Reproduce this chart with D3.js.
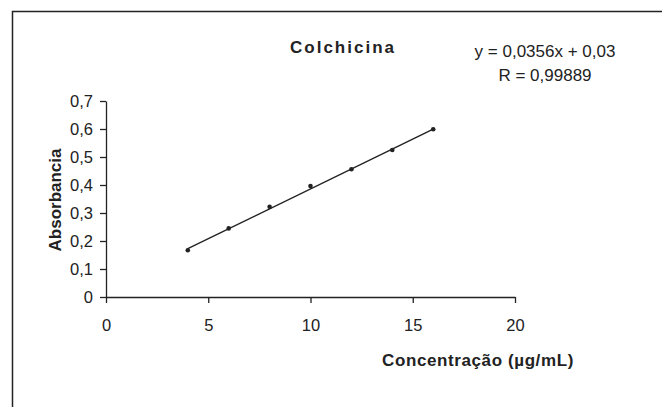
<!DOCTYPE html>
<html>
<head>
<meta charset="utf-8">
<script src="https://cdn.jsdelivr.net/npm/d3@7"></script>
<style>
  body { margin: 0; background: #fff; }
  text { font-family: Arial, "Liberation Sans", sans-serif; fill: #222; }
</style>
</head>
<body>
<svg id="chart"></svg>
<script>

var concentracao = [4, 6, 8, 10, 12, 14, 16]
var absorbancia = [0.167, 0.245, 0.322, 0.396, 0.456, 0.525, 0.599]

var xTicks = [0, 5, 10, 15, 20]
var yTicks = [0, 0.1, 0.2, 0.3, 0.4, 0.5, 0.6, 0.7]

// trend line
var slope = 0.0356
var intercept = 0.03
var equationText = "y = 0,0356x + 0,03"
var rText = "R = 0,99889"

var dimensions = ({
        width: 662,
        height: 407,
        margin: {
        top: 101,
        right: 147,
        bottom: 110,
        left: 106
    }
})

dimensions.boundedWidth = dimensions.width - dimensions.margin.right - dimensions.margin.left
dimensions.boundedHeight = dimensions.height - dimensions.margin.top - dimensions.margin.bottom

var svg = d3.select("#chart")
            .attr("width", dimensions.width)
            .attr("height", dimensions.height)

// outer frame (left and top edges visible)
svg.append("path")
    .attr("d", "M12.5,407 V11.5 H662")
    .attr("fill", "none")
    .attr("stroke", "#222")
    .attr("stroke-width", 1.5)

var xScale = d3.scaleLinear()
        .domain([0, 20])
        .range([0, dimensions.boundedWidth])

var yScale = d3.scaleLinear()
        .domain([0, 0.7])
        .range([dimensions.boundedHeight, 0])

var bounds = svg.append("g")
    .attr("transform", "translate(" + dimensions.margin.left + "," + dimensions.margin.top + ")")

var comma = function(d){ return String(d).replace(".", ",") }

var xAxis = d3.axisBottom(xScale)
        .tickValues(xTicks)
        .tickFormat(d3.format("d"))
        .tickSize(6)
        .tickPadding(16)
        .tickSizeOuter(0)

var yAxis = d3.axisLeft(yScale)
        .tickValues(yTicks)
        .tickFormat(comma)
        .tickSize(6)
        .tickPadding(7)
        .tickSizeOuter(0)

var gx = bounds.append("g")
    .attr("transform", "translate(0," + dimensions.boundedHeight + ")")
    .call(xAxis)

var gy = bounds.append("g")
    .call(yAxis)

bounds.selectAll(".domain, .tick line")
    .attr("stroke", "#222")
    .attr("stroke-width", 1.3)

bounds.selectAll(".tick text")
    .attr("font-family", "Arial, 'Liberation Sans', sans-serif")
    .attr("font-size", 16.5)
    .attr("fill", "#222")

// regression line
bounds.append("line")
    .attr("x1", xScale(d3.min(concentracao)))
    .attr("y1", yScale(slope * d3.min(concentracao) + intercept))
    .attr("x2", xScale(d3.max(concentracao)))
    .attr("y2", yScale(slope * d3.max(concentracao) + intercept))
    .attr("stroke", "#222")
    .attr("stroke-width", 1.4)

// points
bounds.selectAll("circle")
    .data(concentracao)
    .enter()
    .append("circle")
    .attr("cx", function(d){ return xScale(d) })
    .attr("cy", function(d, i){ return yScale(absorbancia[i]) })
    .attr("r", 2.3)
    .attr("fill", "#222")

// title
svg.append("text")
    .attr("x", 343)
    .attr("y", 53)
    .attr("text-anchor", "middle")
    .attr("font-size", 17)
    .attr("font-weight", "bold")
    .attr("letter-spacing", 2)
    .text("Colchicina")

// equation
svg.append("text")
    .attr("x", 545)
    .attr("y", 57)
    .attr("text-anchor", "middle")
    .attr("font-size", 17)
    .text(equationText)

svg.append("text")
    .attr("x", 545)
    .attr("y", 81)
    .attr("text-anchor", "middle")
    .attr("font-size", 17)
    .text(rText)

// axis titles
svg.append("text")
    .attr("x", 478)
    .attr("y", 366)
    .attr("text-anchor", "middle")
    .attr("font-size", 17)
    .attr("font-weight", "bold")
    .attr("letter-spacing", 0.6)
    .text("Concentração (µg/mL)")

svg.append("text")
    .attr("transform", "translate(61,200) rotate(-90)")
    .attr("text-anchor", "middle")
    .attr("font-size", 17)
    .attr("font-weight", "bold")
    .text("Absorbancia")

</script>
</body>
</html>
